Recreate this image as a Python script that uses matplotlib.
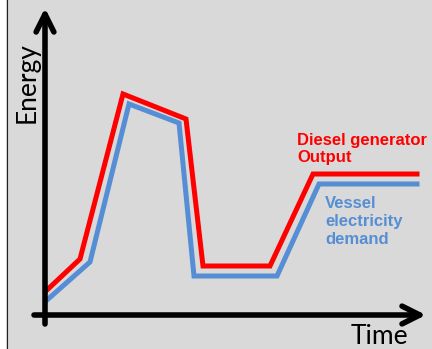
import matplotlib.pyplot as plt
from matplotlib.patches import Rectangle
from matplotlib.lines import Line2D

# Diesel generator output vs vessel electricity demand (arbitrary units)
time_gen = [2, 35, 78, 141, 158, 225, 268, 372]
energy_gen = [25, 56, 221, 196, 49, 49, 141, 141]

time_demand = [2, 45, 84, 134, 149, 232, 274, 372]
energy_demand = [15, 53, 211, 192, 39, 39, 131, 131]

gen_label = "Diesel generator\nOutput"
demand_label = "Vessel\nelectricity\ndemand"

W, H = 432, 349
fig = plt.figure(figsize=(W / 100, H / 100), dpi=100)
fig.patch.set_facecolor('#d9d9d9')

# white strip + thin frame line on the left edge
fig.patches.append(Rectangle((0, 0), 6 / W, 1, transform=fig.transFigure,
                             facecolor='white', edgecolor='none'))
fig.lines.append(Line2D([6.5 / W, 6.5 / W], [0, 1], transform=fig.transFigure,
                        color='#222222', lw=0.8))

ax = fig.add_axes([0, 0, 1, 1])
ax.set_xlim(-45, W - 45)
ax.set_ylim(315 - H, 315)
ax.axis('off')

# axes drawn as arrows
ax.annotate('', xy=(0, 307), xytext=(0, -9),
            arrowprops=dict(arrowstyle='->', lw=4.0, color='black',
                            mutation_scale=32, shrinkA=0, shrinkB=0))
ax.annotate('', xy=(381, 0), xytext=(-11, 0),
            arrowprops=dict(arrowstyle='->', lw=4.0, color='black',
                            mutation_scale=32, shrinkA=0, shrinkB=0))

ax.plot(time_gen, energy_gen, color='#ff0000', lw=3.6, solid_joinstyle='miter')
ax.plot(time_demand, energy_demand, color='#558ed5', lw=3.6, solid_joinstyle='miter')

ax.text(-18, 232, 'Energy', rotation=90, ha='center', va='center',
        fontsize=19, family='Lato')
ax.text(334, -22, 'Time', ha='center', va='center', fontsize=19, family='Lato')

ax.text(252, 182, gen_label, color='#ff0000', fontsize=12, fontweight='bold',
        family='Liberation Sans', ha='left', va='top', linespacing=1.2)
ax.text(280, 119, demand_label, color='#558ed5', fontsize=12, fontweight='bold',
        family='Liberation Sans', ha='left', va='top', linespacing=1.25)

fig.savefig('out.png', dpi=100, facecolor=fig.get_facecolor())
